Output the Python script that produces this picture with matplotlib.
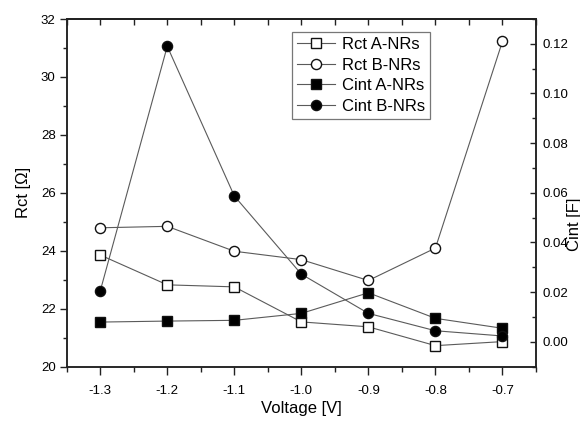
import matplotlib
matplotlib.use("Agg")
import matplotlib.pyplot as plt
from matplotlib.ticker import MultipleLocator, FormatStrFormatter

plt.rcParams['font.family'] = ['Liberation Sans', 'DejaVu Sans']

# Measured data
voltage = [-1.3, -1.2, -1.1, -1.0, -0.9, -0.8, -0.7]
rct_a = [23.85, 22.82, 22.75, 21.54, 21.37, 20.72, 20.86]
rct_b = [24.79, 24.84, 23.98, 23.69, 22.97, 24.09, 31.23]
cint_a = [0.0079, 0.0083, 0.0086, 0.0114, 0.0197, 0.0094, 0.0054]
cint_b = [0.0204, 0.1190, 0.0587, 0.0272, 0.0114, 0.0044, 0.0023]

x_ticks = [-1.3, -1.2, -1.1, -1.0, -0.9, -0.8, -0.7]

line_col = '#5a5a5a'
edge_col = '#111111'

fig = plt.figure(figsize=(5.8, 4.21), dpi=100)
ax = fig.add_axes([66.7 / 580, 1 - 366.5 / 421, (536 - 66.7) / 580, (366.5 - 19) / 421])
ax2 = ax.twinx()

common = dict(color=line_col, lw=0.8, mec=edge_col, mew=1.0)
h1, = ax.plot(voltage, rct_a, marker='s', ms=6.6, mfc='white', label='Rct A-NRs', **common)
h2, = ax.plot(voltage, rct_b, marker='o', ms=7.3, mfc='white', label='Rct B-NRs', **common)
h3, = ax2.plot(voltage, cint_a, marker='s', ms=6.6, mfc='black', label='Cint A-NRs', **common)
h4, = ax2.plot(voltage, cint_b, marker='o', ms=7.3, mfc='black', label='Cint B-NRs', **common)

ax.set_xlim(-1.35, -0.65)
ax.set_ylim(20, 32)
ax2.set_ylim(-0.01, 0.13)

ax.set_xticks(x_ticks)
ax.xaxis.set_major_formatter(FormatStrFormatter('%.1f'))
ax.xaxis.set_minor_locator(MultipleLocator(0.05))
ax.yaxis.set_major_locator(MultipleLocator(2))
ax.yaxis.set_minor_locator(MultipleLocator(1))
ax2.yaxis.set_major_locator(MultipleLocator(0.02))
ax2.yaxis.set_minor_locator(MultipleLocator(0.01))
ax2.yaxis.set_major_formatter(FormatStrFormatter('%.2f'))

for a in (ax, ax2):
    for s in a.spines.values():
        s.set_linewidth(1.1)
        s.set_color('#222222')

ax.tick_params(axis='x', which='major', direction='out', length=6, width=1,
               labelsize=9.5, pad=7, color='#222222')
ax.tick_params(axis='x', which='minor', direction='out', length=3.5, width=1,
               color='#222222')
ax.tick_params(axis='y', which='major', direction='out', length=5, width=1,
               labelsize=9.5, pad=3, color='#222222')
ax.tick_params(axis='y', which='minor', direction='out', length=3, width=1, color='#222222')
ax2.tick_params(axis='y', which='major', direction='in', length=4.5, width=1,
                labelsize=9.5, pad=5, color='#222222')
ax2.tick_params(axis='y', which='minor', direction='in', length=3, width=1, color='#222222')

# Top ticks point inward
top = ax.secondary_xaxis('top')
top.set_xticks(x_ticks)
top.xaxis.set_minor_locator(MultipleLocator(0.05))
top.tick_params(which='both', direction='in', length=4.5, width=1, labeltop=False,
                color='#222222')
top.spines['top'].set_linewidth(1.1)
ax.tick_params(axis='x', which='both', top=False)

ax.set_xlabel('Voltage [V]', fontsize=12, labelpad=3)
ax.set_ylabel('Rct [Ω]', fontsize=12, labelpad=7)
fig.text(574 / 580, 1 - 224 / 421, 'Cint [F]', rotation=90, ha='center', va='center',
         fontsize=12)

leg = ax2.legend(handles=[h1, h2, h3, h4], loc='upper left',
                 bbox_to_anchor=(292 / 580, 1 - 32 / 421), bbox_transform=fig.transFigure,
                 borderaxespad=0, fontsize=12, frameon=True, fancybox=False,
                 edgecolor='#777777', handlelength=2.3, handletextpad=0.4,
                 borderpad=0.3, labelspacing=0.34, framealpha=1)
leg.get_frame().set_linewidth(0.9)

fig.savefig('out.png', dpi=100)
